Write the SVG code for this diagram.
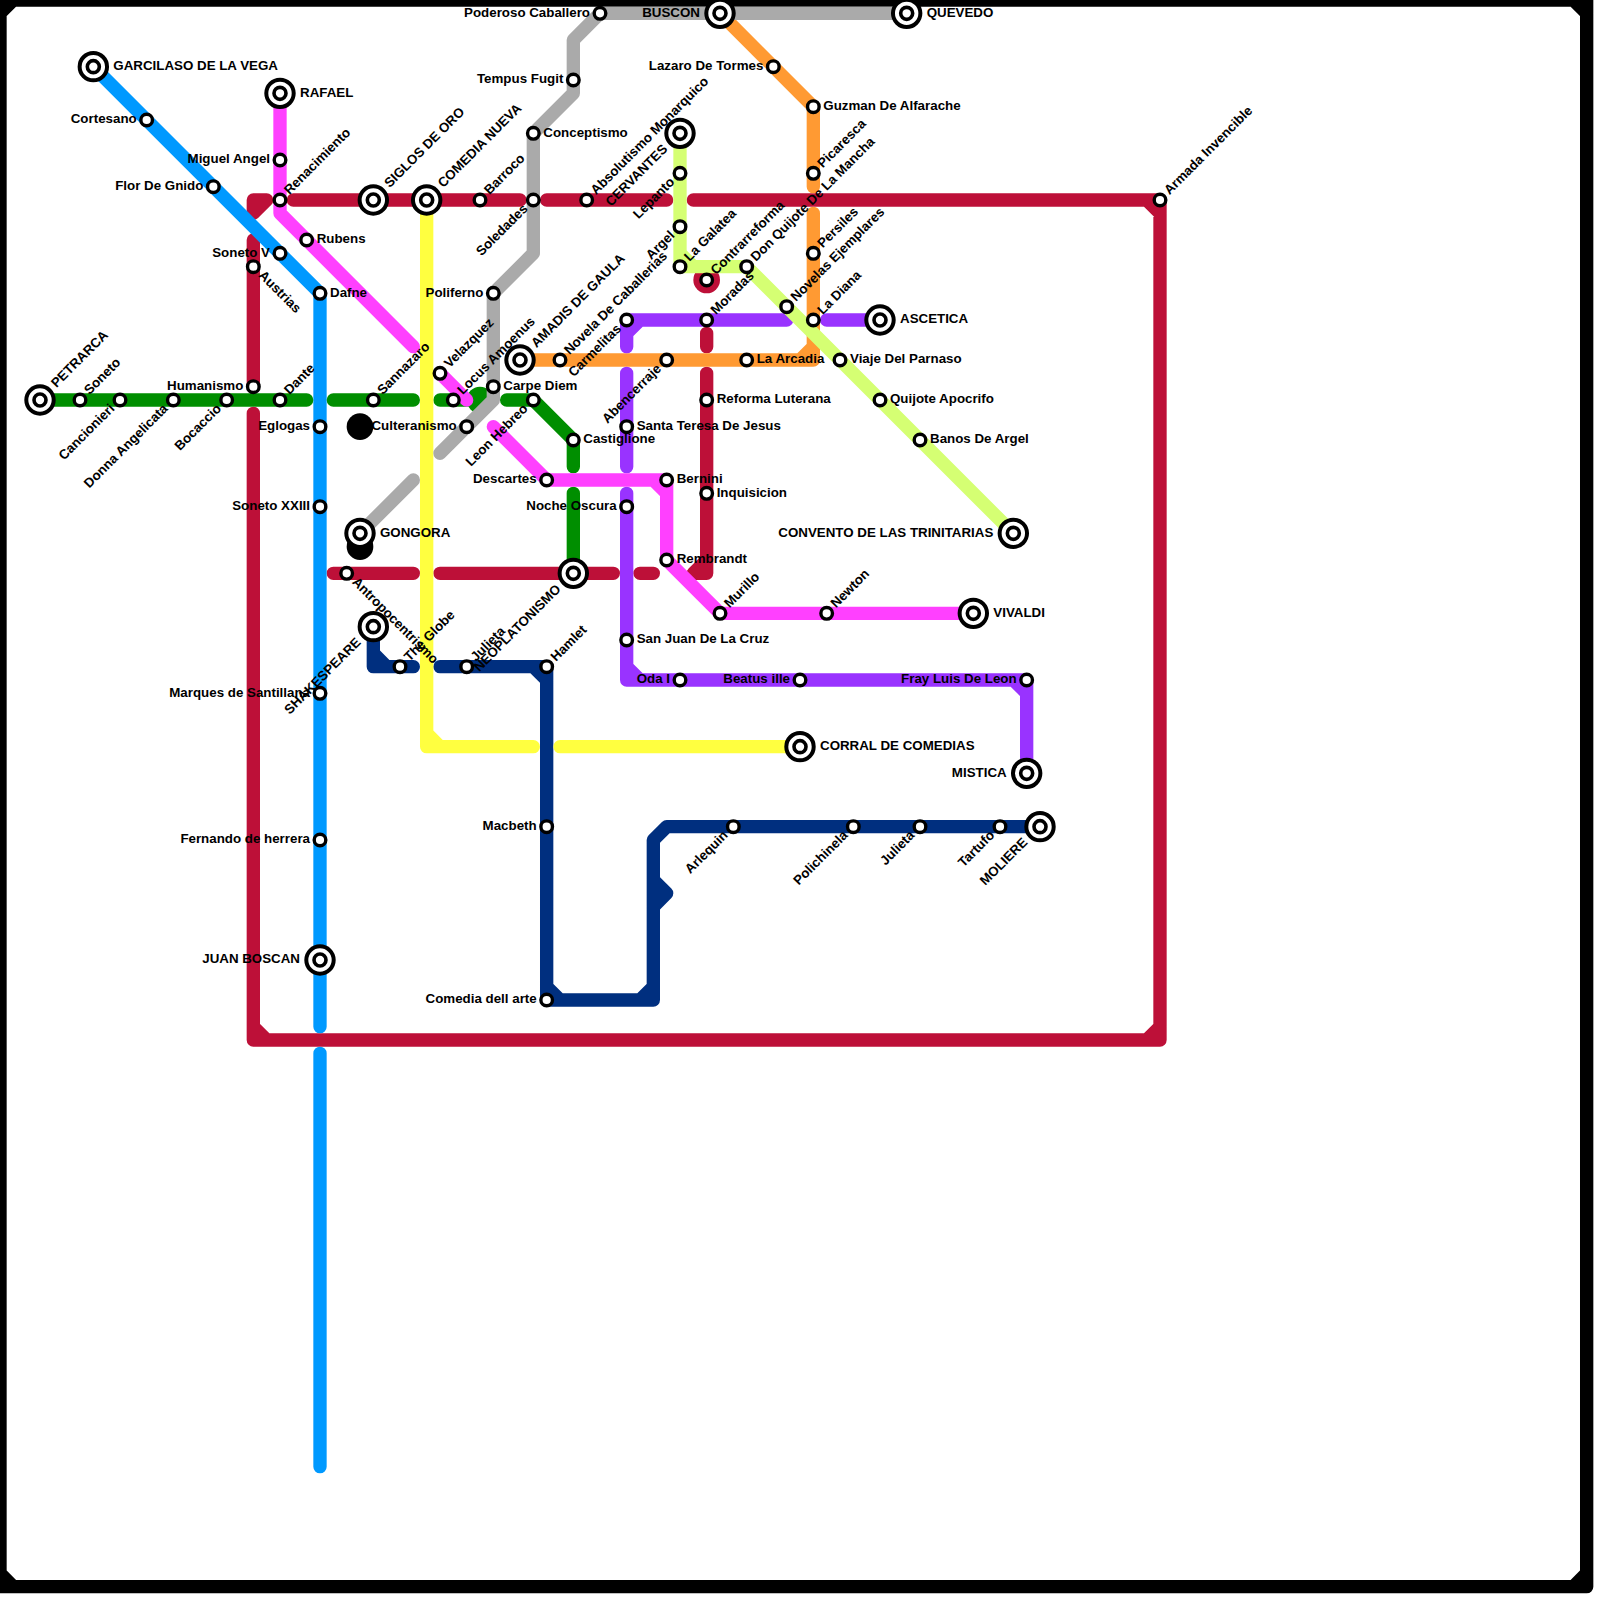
<svg xmlns="http://www.w3.org/2000/svg" width="1600" height="1600" viewBox="0 0 1600 1600">
<style>
.ln{fill:none;stroke-width:1;stroke-linecap:round;stroke-linejoin:round}
.k{stroke:#000}.rd{stroke:#bd1038}.or{stroke:#ff9a33}.bl{stroke:#0099ff}.gn{stroke:#008e00}.nv{stroke:#002f7f}.yl{stroke:#ffff40}.gy{stroke:#aaaaaa}.pu{stroke:#9933ff}.mg{stroke:#ff40ff}.lm{stroke:#d5ff73}
text{font-family:"Liberation Sans",Arial,sans-serif;font-weight:700;font-size:13.33px;fill:#000}
.e{transform:translate(10px,3.3px)}
.w{transform:translate(-10px,3.3px);text-anchor:end}
.ne{transform:rotate(-45deg) translate(10px,3.3px)}
.sw{transform:rotate(-45deg) translate(-10px,3.3px);text-anchor:end}
.se{transform:rotate(45deg) translate(10px,3.3px)}
.te{transform:translate(20px,3.3px)}
.tw{transform:translate(-20px,3.3px);text-anchor:end}
.tne{transform:rotate(-45deg) translate(20px,3.3px)}
.tsw{transform:rotate(-45deg) translate(-20px,3.3px);text-anchor:end}
</style>
<defs>
<g id="s"><circle r="5.8" fill="#fff" stroke="#000" stroke-width="3.4"/></g>
<g id="t"><circle r="13.7" fill="#fff" stroke="#000" stroke-width="4"/><circle r="6" fill="#fff" stroke="#000" stroke-width="3.6"/></g>
</defs>
<rect width="1600" height="1600" fill="#fff"/>
<g id="connectors" transform="scale(13.33333)">
<path class="ln k" d="M0 0H119V119H0ZM0 1L1 0M118 0L119 1M119 118L118 119M1 119L0 118"/>
<path class="ln rd" d="M19 15H20M19 15V16M20 15L19 16M22 15H39M41 15H50M52 15H87V78H19V31M19 18V29M19 77L20 78M86 78L87 77M86 15L87 16M25 43H31M33 43H46M48 43H49M53 25V26M53 28V43H52M52 43L53 42"/>
<circle cx="53" cy="21" r="1" fill="#bd1038"/>
<path class="ln or" d="M54 1L61 8V14M61 16V27H39M60 27L61 26"/>
<path class="ln bl" d="M7 5L24 22V77M24 79V110"/>
<path class="ln gn" d="M3 30H23M25 30H31M33 30H35M38 30H40L43 33V35M43 37V43"/>
<circle cx="36" cy="30" r="1" fill="#008e00"/>
<path class="ln nv" d="M28 47V50H31M28 49L29 50M33 50H41V75H49V63L50 62H78M40 50L41 51M41 74L42 75M48 75L49 74M49 66L50 67L49 68"/>
<path class="ln yl" d="M32 15V55V56H40M32 55L33 56M42 56H60"/>
<path class="ln gy" d="M68 1H45L43 3V7L40 10V19L37 22V30L33 34M31 36L27 40"/>
<path class="ln pu" d="M47 26V24H59M47 25L48 24M62 24H66M47 28V35M47 37V51H77V58M47 50L48 51M76 51L77 52"/>
<path class="ln mg" d="M21 7V16L31 26M33 28L35 30M37 32L41 36H50V42L54 46H73M49 36L50 37"/>
<path class="ln lm" d="M51 10V20H56L76 40M51 19L52 20"/>
<circle cx="27" cy="32" r="1" fill="#000"/>
<circle cx="27" cy="41" r="1" fill="#000"/>
</g>
<g id="n1" transform="translate(93.33,66.67)"><use href="#t"/><text class="te">GARCILASO DE LA VEGA</text></g>
<g id="n2" transform="translate(146.67,120)"><use href="#s"/><text class="w">Cortesano</text></g>
<g id="n3" transform="translate(280,93.33)"><use href="#t"/><text class="te">RAFAEL</text></g>
<g id="n4" transform="translate(280,160)"><use href="#s"/><text class="w">Miguel Angel</text></g>
<g id="n5" transform="translate(213.33,186.67)"><use href="#s"/><text class="w">Flor De Gnido</text></g>
<g id="n6" transform="translate(280,200)"><use href="#s"/><text class="ne">Renacimiento</text></g>
<g id="n7" transform="translate(373.33,200)"><use href="#t"/><text class="tne">SIGLOS DE ORO</text></g>
<g id="n8" transform="translate(426.67,200)"><use href="#t"/><text class="tne">COMEDIA NUEVA</text></g>
<g id="n9" transform="translate(480,200)"><use href="#s"/><text class="ne">Barroco</text></g>
<g id="n10" transform="translate(306.67,240)"><use href="#s"/><text class="e">Rubens</text></g>
<g id="n11" transform="translate(280,253.33)"><use href="#s"/><text class="w">Soneto V</text></g>
<g id="n12" transform="translate(253.33,266.67)"><use href="#s"/><text class="se">Austrias</text></g>
<g id="n13" transform="translate(320,293.33)"><use href="#s"/><text class="e">Dafne</text></g>
<g id="n14" transform="translate(493.33,293.33)"><use href="#s"/><text class="w">Poliferno</text></g>
<g id="n15" transform="translate(253.33,386.67)"><use href="#s"/><text class="w">Humanismo</text></g>
<g id="n16" transform="translate(440,373.33)"><use href="#s"/><text class="ne">Velazquez</text></g>
<g id="n17" transform="translate(493.33,386.67)"><use href="#s"/><text class="e">Carpe Diem</text></g>
<g id="n18" transform="translate(40,400)"><use href="#t"/><text class="tne">PETRARCA</text></g>
<g id="n19" transform="translate(80,400)"><use href="#s"/><text class="ne">Soneto</text></g>
<g id="n20" transform="translate(120,400)"><use href="#s"/><text class="sw">Cancionieri</text></g>
<g id="n21" transform="translate(173.33,400)"><use href="#s"/><text class="sw">Donna Angelicata</text></g>
<g id="n22" transform="translate(226.67,400)"><use href="#s"/><text class="sw">Bocaccio</text></g>
<g id="n23" transform="translate(280,400)"><use href="#s"/><text class="ne">Dante</text></g>
<g id="n24" transform="translate(373.33,400)"><use href="#s"/><text class="ne">Sannazaro</text></g>
<g id="n25" transform="translate(453.33,400)"><use href="#s"/><text class="ne">Locus Amoenus</text></g>
<g id="n26" transform="translate(320,426.67)"><use href="#s"/><text class="w">Eglogas</text></g>
<g id="n27" transform="translate(466.67,426.67)"><use href="#s"/><text class="w">Culteranismo</text></g>
<g id="n28" transform="translate(520,360)"><use href="#t"/><text class="tne">AMADIS DE GAULA</text></g>
<g id="n29" transform="translate(560,360)"><use href="#s"/><text class="ne">Novela De Caballerias</text></g>
<g id="n30" transform="translate(626.67,320)"><use href="#s"/><text class="sw">Carmelitas</text></g>
<g id="n31" transform="translate(666.67,360)"><use href="#s"/><text class="sw">Abencerraje</text></g>
<g id="n32" transform="translate(626.67,426.67)"><use href="#s"/><text class="e">Santa Teresa De Jesus</text></g>
<g id="n33" transform="translate(573.33,440)"><use href="#s"/><text class="e">Castiglione</text></g>
<g id="n34" transform="translate(533.33,400)"><use href="#s"/><text class="sw">Leon Hebreo</text></g>
<g id="n35" transform="translate(546.67,480)"><use href="#s"/><text class="w">Descartes</text></g>
<g id="n36" transform="translate(666.67,480)"><use href="#s"/><text class="e">Bernini</text></g>
<g id="n37" transform="translate(706.67,493.33)"><use href="#s"/><text class="e">Inquisicion</text></g>
<g id="n38" transform="translate(626.67,506.67)"><use href="#s"/><text class="w">Noche Oscura</text></g>
<g id="n39" transform="translate(360,533.33)"><use href="#t"/><text class="te">GONGORA</text></g>
<g id="n40" transform="translate(666.67,560)"><use href="#s"/><text class="e">Rembrandt</text></g>
<g id="n41" transform="translate(573.33,573.33)"><use href="#t"/><text class="tsw">NEOPLATONISMO</text></g>
<g id="n42" transform="translate(346.67,573.33)"><use href="#s"/><text class="se">Antropocentrismo</text></g>
<g id="n43" transform="translate(720,613.33)"><use href="#s"/><text class="ne">Murillo</text></g>
<g id="n44" transform="translate(373.33,626.67)"><use href="#t"/><text class="tsw">SHAKESPEARE</text></g>
<g id="n45" transform="translate(626.67,640)"><use href="#s"/><text class="e">San Juan De La Cruz</text></g>
<g id="n46" transform="translate(400,666.67)"><use href="#s"/><text class="ne">The Globe</text></g>
<g id="n47" transform="translate(466.67,666.67)"><use href="#s"/><text class="ne">Julieta</text></g>
<g id="n48" transform="translate(546.67,666.67)"><use href="#s"/><text class="ne">Hamlet</text></g>
<g id="n49" transform="translate(680,680)"><use href="#s"/><text class="w">Oda I</text></g>
<g id="n50" transform="translate(320,693.33)"><use href="#s"/><text class="w">Marques de Santillana</text></g>
<g id="n51" transform="translate(706.67,400)"><use href="#s"/><text class="e">Reforma Luterana</text></g>
<g id="n52" transform="translate(600,13.33)"><use href="#s"/><text class="w">Poderoso Caballero</text></g>
<g id="n53" transform="translate(720,13.33)"><use href="#t"/><text class="tw">BUSCON</text></g>
<g id="n54" transform="translate(906.67,13.33)"><use href="#t"/><text class="te">QUEVEDO</text></g>
<g id="n55" transform="translate(773.33,66.67)"><use href="#s"/><text class="w">Lazaro De Tormes</text></g>
<g id="n56" transform="translate(813.33,106.67)"><use href="#s"/><text class="e">Guzman De Alfarache</text></g>
<g id="n57" transform="translate(573.33,80)"><use href="#s"/><text class="w">Tempus Fugit</text></g>
<g id="n58" transform="translate(533.33,133.33)"><use href="#s"/><text class="e">Conceptismo</text></g>
<g id="n59" transform="translate(680,133.33)"><use href="#t"/><text class="tsw">CERVANTES</text></g>
<g id="n60" transform="translate(680,173.33)"><use href="#s"/><text class="sw">Lepanto</text></g>
<g id="n61" transform="translate(813.33,173.33)"><use href="#s"/><text class="ne">Picaresca</text></g>
<g id="n62" transform="translate(533.33,200)"><use href="#s"/><text class="sw">Soledades</text></g>
<g id="n63" transform="translate(586.67,200)"><use href="#s"/><text class="ne">Absolutismo Monarquico</text></g>
<g id="n64" transform="translate(680,226.67)"><use href="#s"/><text class="sw">Argel</text></g>
<g id="n65" transform="translate(813.33,253.33)"><use href="#s"/><text class="ne">Persiles</text></g>
<g id="n66" transform="translate(680,266.67)"><use href="#s"/><text class="ne">La Galatea</text></g>
<g id="n67" transform="translate(746.67,266.67)"><use href="#s"/><text class="ne">Don Quijote De La Mancha</text></g>
<g id="n68" transform="translate(706.67,280)"><use href="#s"/><text class="ne">Contrarreforma</text></g>
<g id="n69" transform="translate(786.67,306.67)"><use href="#s"/><text class="ne">Novelas Ejemplares</text></g>
<g id="n70" transform="translate(813.33,320)"><use href="#s"/><text class="ne">La Diana</text></g>
<g id="n71" transform="translate(880,320)"><use href="#t"/><text class="te">ASCETICA</text></g>
<g id="n72" transform="translate(706.67,320)"><use href="#s"/><text class="ne">Moradas</text></g>
<g id="n73" transform="translate(746.67,360)"><use href="#s"/><text class="e">La Arcadia</text></g>
<g id="n74" transform="translate(840,360)"><use href="#s"/><text class="e">Viaje Del Parnaso</text></g>
<g id="n75" transform="translate(880,400)"><use href="#s"/><text class="e">Quijote Apocrifo</text></g>
<g id="n76" transform="translate(920,440)"><use href="#s"/><text class="e">Banos De Argel</text></g>
<g id="n77" transform="translate(1013.33,533.33)"><use href="#t"/><text class="tw">CONVENTO DE LAS TRINITARIAS</text></g>
<g id="n78" transform="translate(973.33,613.33)"><use href="#t"/><text class="te">VIVALDI</text></g>
<g id="n79" transform="translate(826.67,613.33)"><use href="#s"/><text class="ne">Newton</text></g>
<g id="n80" transform="translate(800,680)"><use href="#s"/><text class="w">Beatus ille</text></g>
<g id="n81" transform="translate(1026.67,680)"><use href="#s"/><text class="w">Fray Luis De Leon</text></g>
<g id="n82" transform="translate(1026.67,773.33)"><use href="#t"/><text class="tw">MISTICA</text></g>
<g id="n83" transform="translate(800,746.67)"><use href="#t"/><text class="te">CORRAL DE COMEDIAS</text></g>
<g id="n84" transform="translate(1040,826.67)"><use href="#t"/><text class="tsw">MOLIERE</text></g>
<g id="n85" transform="translate(1000,826.67)"><use href="#s"/><text class="sw">Tartufo</text></g>
<g id="n86" transform="translate(920,826.67)"><use href="#s"/><text class="sw">Julieta</text></g>
<g id="n87" transform="translate(853.33,826.67)"><use href="#s"/><text class="sw">Polichinela</text></g>
<g id="n88" transform="translate(733.33,826.67)"><use href="#s"/><text class="sw">Arlequin</text></g>
<g id="n89" transform="translate(546.67,826.67)"><use href="#s"/><text class="w">Macbeth</text></g>
<g id="n90" transform="translate(546.67,1000)"><use href="#s"/><text class="w">Comedia dell arte</text></g>
<g id="n91" transform="translate(320,960)"><use href="#t"/><text class="tw">JUAN BOSCAN</text></g>
<g id="n92" transform="translate(320,840)"><use href="#s"/><text class="w">Fernando de herrera</text></g>
<g id="n93" transform="translate(320,506.67)"><use href="#s"/><text class="w">Soneto XXIII</text></g>
<g id="n94" transform="translate(1160,200)"><use href="#s"/><text class="ne">Armada Invencible</text></g>
</svg>
